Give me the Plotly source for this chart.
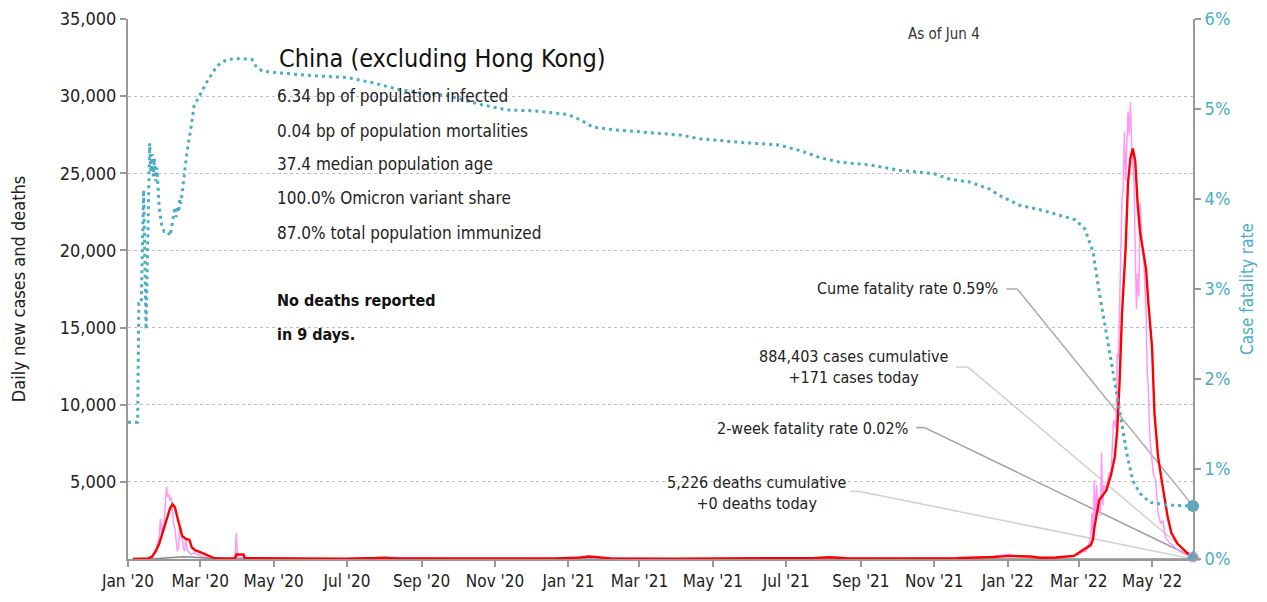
import plotly.graph_objects as go

############################################################
# Data ######################################################

# daily new cases, raw (pink)
cases_dates = [
  '2020-01-15', '2020-01-20', '2020-01-23', '2020-01-25', '2020-01-27', '2020-01-28', '2020-01-29',
  '2020-01-30', '2020-01-31', '2020-02-01', '2020-02-02', '2020-02-03', '2020-02-04', '2020-02-05',
  '2020-02-06', '2020-02-07', '2020-02-08', '2020-02-09', '2020-02-10', '2020-02-11', '2020-02-12',
  '2020-02-13', '2020-02-14', '2020-02-15', '2020-02-16', '2020-02-17', '2020-02-18', '2020-02-19',
  '2020-02-20', '2020-02-22', '2020-02-25', '2020-02-28', '2020-03-03', '2020-03-07', '2020-03-12',
  '2020-03-20', '2020-03-30', '2020-03-31', '2020-04-01', '2020-04-05', '2020-05-01', '2020-07-01',
  '2020-07-28', '2020-08-05', '2020-10-01', '2020-11-01', '2020-11-10', '2020-12-20', '2021-01-12',
  '2021-01-18', '2021-01-28', '2021-04-01', '2021-07-30', '2021-08-06', '2021-08-20', '2021-11-05',
  '2021-12-20', '2022-01-03', '2022-01-06', '2022-01-15', '2022-01-28', '2022-02-15', '2022-02-25',
  '2022-03-01', '2022-03-04', '2022-03-07', '2022-03-10', '2022-03-11', '2022-03-12', '2022-03-13',
  '2022-03-14', '2022-03-15', '2022-03-16', '2022-03-17', '2022-03-18', '2022-03-19', '2022-03-20',
  '2022-03-21', '2022-03-22', '2022-03-24', '2022-03-26', '2022-03-28', '2022-03-29', '2022-03-30',
  '2022-04-01', '2022-04-02', '2022-04-03', '2022-04-04', '2022-04-05', '2022-04-06', '2022-04-07',
  '2022-04-08', '2022-04-09', '2022-04-10', '2022-04-11', '2022-04-12', '2022-04-13', '2022-04-14',
  '2022-04-15', '2022-04-16', '2022-04-17', '2022-04-18', '2022-04-19', '2022-04-20', '2022-04-21',
  '2022-04-22', '2022-04-23', '2022-04-24', '2022-04-25', '2022-04-26', '2022-04-27', '2022-04-28',
  '2022-04-29', '2022-05-02', '2022-05-04', '2022-05-06', '2022-05-08', '2022-05-10', '2022-05-12',
  '2022-05-15', '2022-05-18', '2022-05-22', '2022-05-26', '2022-05-30', '2022-06-04',
]
cases_daily = [
  0, 100, 400, 800, 1500, 2600, 1700,
  2000, 2500, 3500, 4700, 4000, 4200, 3800,
  4000, 3000, 2200, 2000, 1200, 500, 700,
  2150, 2000, 1300, 700, 500, 1200, 700,
  500, 300, 400, 300, 150, 80, 20,
  40, 40, 1700, 60, 80, 20, 25,
  90, 100, 25, 60, 25, 30, 120,
  180, 100, 20, 80, 130, 50, 70,
  150, 300, 220, 160, 90, 120, 200,
  300, 450, 500, 1100, 1500, 3000, 1300,
  5100, 2500, 4800, 3000, 4000, 2800, 6900,
  3500, 4800, 4500, 5500, 5700, 7000, 9000,
  8500, 13300, 13000, 16500, 21000, 23300, 24000,
  27700, 24500, 27000, 29000, 27500, 29600, 27000,
  25500, 24400, 20000, 16200, 18500, 17000, 23100,
  21500, 20000, 19500, 18000, 16000, 12000, 11000,
  8000, 5500, 5100, 3000, 2300, 2500, 1400,
  1100, 900, 600, 400, 250, 171,
]

# 7-day average of new cases (red)
avg_dates = [
  '2020-01-05', '2020-01-18', '2020-01-21', '2020-01-24', '2020-01-27', '2020-01-30', '2020-02-02',
  '2020-02-05', '2020-02-07', '2020-02-09', '2020-02-11', '2020-02-13', '2020-02-15', '2020-02-18',
  '2020-02-21', '2020-02-23', '2020-02-26', '2020-03-01', '2020-03-05', '2020-03-09', '2020-03-13',
  '2020-03-20', '2020-03-30', '2020-03-31', '2020-04-06', '2020-04-07', '2020-04-20', '2020-05-15',
  '2020-07-01', '2020-07-25', '2020-08-01', '2020-08-10', '2020-10-01', '2020-10-28', '2020-11-10',
  '2020-12-20', '2021-01-10', '2021-01-18', '2021-01-25', '2021-02-05', '2021-04-01', '2021-06-01',
  '2021-07-25', '2021-08-06', '2021-08-20', '2021-10-01', '2021-11-05', '2021-11-20', '2021-12-20',
  '2022-01-03', '2022-01-10', '2022-01-20', '2022-01-28', '2022-02-10', '2022-02-25', '2022-03-02',
  '2022-03-08', '2022-03-11', '2022-03-13', '2022-03-14', '2022-03-16', '2022-03-18', '2022-03-24',
  '2022-03-28', '2022-03-31', '2022-04-02', '2022-04-04', '2022-04-06', '2022-04-09', '2022-04-11',
  '2022-04-13', '2022-04-15', '2022-04-17', '2022-04-19', '2022-04-21', '2022-04-24', '2022-04-26',
  '2022-04-28', '2022-05-01', '2022-05-03', '2022-05-06', '2022-05-10', '2022-05-14', '2022-05-17',
  '2022-05-22', '2022-05-30', '2022-06-04',
]
cases_avg = [
  0, 40, 150, 500, 1000, 1800, 2600,
  3300, 3550, 3350, 2700, 2000, 1500, 1300,
  1250, 750, 550, 450, 300, 150, 50,
  30, 40, 290, 290, 50, 40, 20,
  25, 60, 90, 40, 25, 40, 25,
  30, 90, 160, 120, 30, 20, 30,
  60, 110, 50, 35, 70, 50, 130,
  200, 180, 160, 80, 100, 200, 450,
  700, 900, 1300, 2000, 2900, 3800, 4450,
  5500, 6600, 8300, 11500, 15900, 20100, 24400,
  26000, 26600, 25800, 23000, 21200, 19800, 18800,
  16500, 13700, 9400, 6600, 4600, 2700, 1700,
  1000, 400, 130,
]

# 7-day average of deaths (gray)
deaths_dates = ['2020-01-20', '2020-01-30', '2020-02-08', '2020-02-16', '2020-02-25', '2020-03-10',
                '2020-03-25', '2022-04-05', '2022-04-25', '2022-05-10', '2022-06-04']
deaths_avg = [0, 40, 90, 140, 110, 30, 5, 0, 40, 25, 0]

# case fatality rate, % (blue dotted, right axis)
cfr_dates = [
  '2020-01-01', '2020-01-09', '2020-01-10', '2020-01-12', '2020-01-14', '2020-01-16', '2020-01-19',
  '2020-01-20', '2020-01-21', '2020-01-22', '2020-01-23', '2020-01-24', '2020-01-25', '2020-01-26',
  '2020-01-27', '2020-01-29', '2020-01-31', '2020-02-03', '2020-02-05', '2020-02-07', '2020-02-09',
  '2020-02-10', '2020-02-11', '2020-02-12', '2020-02-13', '2020-02-14', '2020-02-17', '2020-02-19',
  '2020-02-23', '2020-02-25', '2020-03-01', '2020-03-06', '2020-03-15', '2020-03-23', '2020-04-04',
  '2020-04-13', '2020-04-17', '2020-04-22', '2020-05-06', '2020-06-03', '2020-07-01', '2020-07-23',
  '2020-08-12', '2020-08-31', '2020-09-22', '2020-10-09', '2020-10-20', '2020-11-11', '2020-12-03',
  '2020-12-31', '2021-01-11', '2021-01-21', '2021-02-07', '2021-03-07', '2021-04-04', '2021-04-20',
  '2021-05-23', '2021-06-25', '2021-07-12', '2021-07-29', '2021-08-14', '2021-09-08', '2021-10-03',
  '2021-11-01', '2021-11-14', '2021-11-30', '2021-12-17', '2021-12-25', '2022-01-11', '2022-01-28',
  '2022-02-13', '2022-02-26', '2022-03-06', '2022-03-10', '2022-03-13', '2022-03-18', '2022-03-24',
  '2022-03-29', '2022-04-04', '2022-04-10', '2022-04-15', '2022-04-21', '2022-04-29', '2022-05-13',
  '2022-06-04',
]
cfr = [
  1.52, 1.52, 2.84, 2.84, 4.10, 2.55, 4.62,
  4.30, 4.50, 4.25, 4.45, 4.20, 4.35, 4.10,
  3.90, 3.71, 3.64, 3.64, 3.59, 3.75, 3.91,
  3.80, 3.92, 3.85, 4.00, 3.95, 4.27, 4.52,
  4.85, 5.04, 5.16, 5.29, 5.48, 5.55, 5.56,
  5.55, 5.46, 5.42, 5.40, 5.37, 5.35, 5.29,
  5.22, 5.18, 5.15, 5.09, 5.05, 4.99, 4.98,
  4.94, 4.88, 4.80, 4.77, 4.74, 4.71, 4.67,
  4.63, 4.60, 4.54, 4.46, 4.41, 4.38, 4.32,
  4.28, 4.22, 4.19, 4.11, 4.04, 3.93, 3.88,
  3.82, 3.77, 3.67, 3.52, 3.41, 2.97, 2.53,
  2.12, 1.65, 1.17, 0.87, 0.73, 0.63, 0.60,
  0.59,
]

two_week_cfr = 0.02
end_date = '2022-06-04'

x_ticks = ['2020-01-01', '2020-03-01', '2020-05-01', '2020-07-01', '2020-09-01', '2020-11-01',
           '2021-01-01', '2021-03-01', '2021-05-01', '2021-07-01', '2021-09-01', '2021-11-01',
           '2022-01-01', '2022-03-01', '2022-05-01']
y_ticks = [5000, 10000, 15000, 20000, 25000, 30000, 35000]
y2_ticks = [0, 1, 2, 3, 4, 5, 6]
y2_labels = ['0%', '1%', '2%', '3%', '4%', '5%', '6%']

stats = [
  '6.34 bp of population infected',
  '0.04 bp of population mortalities',
  '37.4 median population age',
  '100.0% Omicron variant share',
  '87.0% total population immunized',
]

############################################################
# Plot #####################################################

FONT = 'DejaVu Sans Condensed, Roboto, sans-serif'
BLUE = '#4bacc6'

fig = go.Figure()

fig.add_trace(go.Scatter(
  x = cases_dates, y = cases_daily, mode = 'lines',
  line = dict(color = '#ff99f5', width = 1.5),
))
fig.add_trace(go.Scatter(
  x = deaths_dates, y = deaths_avg, mode = 'lines',
  line = dict(color = '#888888', width = 1.5),
))
fig.add_trace(go.Scatter(
  x = avg_dates, y = cases_avg, mode = 'lines',
  line = dict(color = '#ff0000', width = 2.4),
))
fig.add_trace(go.Scatter(
  x = cfr_dates, y = cfr, mode = 'lines', yaxis = 'y2',
  line = dict(color = BLUE, width = 3, dash = '3px,4px'),
))

# end markers
fig.add_trace(go.Scatter(
  x = [end_date], y = [cases_avg[-1]], mode = 'markers',
  marker = dict(size = 11, color = 'rgba(205,150,215,0.85)'),
  cliponaxis = False,
))
fig.add_trace(go.Scatter(
  x = [end_date], y = [cfr[-1]], mode = 'markers', yaxis = 'y2',
  marker = dict(size = 12, color = BLUE),
  cliponaxis = False,
))
fig.add_trace(go.Scatter(
  x = [end_date], y = [two_week_cfr], mode = 'markers', yaxis = 'y2',
  marker = dict(size = 13, color = BLUE, symbol = 'triangle-up'),
  cliponaxis = False,
))

# leader lines from labels to end points
def leader(x0, x1, y0, y_end, yref, color):
  fig.add_shape(type = 'line', xref = 'x', yref = yref, x0 = x0, x1 = x1, y0 = y0, y1 = y0,
                line = dict(color = color, width = 1.5), layer = 'below')
  fig.add_shape(type = 'line', xref = 'x', yref = yref, x0 = x1, x1 = end_date, y0 = y0, y1 = y_end,
                line = dict(color = color, width = 1.5), layer = 'below')

leader('2021-12-31', '2022-01-09', 3.0, cfr[-1], 'y2', '#aaaaaa')
leader('2021-11-19', '2021-11-29', 12440, cases_avg[-1], 'y', '#d0d0d0')
leader('2021-10-17', '2021-10-24', 1.46, two_week_cfr, 'y2', '#a0a0a0')
leader('2021-08-23', '2021-08-31', 4380, deaths_avg[-1], 'y', '#d0d0d0')

anns = [
  dict(x = 0.1399, y = 0.926, text = 'China (excluding Hong Kong)', xanchor = 'left',
       font = dict(size = 25, color = '#111')),
  dict(x = 0.766, y = 0.972, text = 'As of Jun 4', xanchor = 'center',
       font = dict(size = 15, color = '#333')),
  dict(x = 0.138, y = 0.479, text = '<b>No deaths reported</b>', xanchor = 'left',
       font = dict(size = 16, color = '#111')),
  dict(x = 0.138, y = 0.416, text = '<b>in 9 days.</b>', xanchor = 'left',
       font = dict(size = 16, color = '#111')),
  dict(x = 0.819, y = 0.501, text = 'Cume fatality rate 0.59%', xanchor = 'right',
       font = dict(size = 16, color = '#222')),
  dict(x = 0.681, y = 0.355, text = '884,403 cases cumulative<br>+171 cases today', xanchor = 'center',
       align = 'center', font = dict(size = 16, color = '#222')),
  dict(x = 0.734, y = 0.241, text = '2-week fatality rate 0.02%', xanchor = 'right',
       font = dict(size = 16, color = '#222')),
  dict(x = 0.591, y = 0.123, text = '5,226 deaths cumulative<br>+0 deaths today', xanchor = 'center',
       align = 'center', font = dict(size = 16, color = '#222')),
]
for ypos, txt in zip([0.858, 0.792, 0.731, 0.668, 0.604], stats):
  anns.append(dict(x = 0.138, y = ypos, text = txt, xanchor = 'left',
                   font = dict(size = 17, color = '#222')))
for a in anns:
  a.update(xref = 'paper', yref = 'paper', yanchor = 'middle', showarrow = False)

fig.update_layout(
  width = 1267, height = 602,
  margin = dict(l = 120, r = 82, t = 11, b = 51),
  paper_bgcolor = 'white', plot_bgcolor = 'white',
  showlegend = False,
  font = dict(family = FONT, size = 18, color = '#333'),
  annotations = anns,
  xaxis = dict(
    type = 'date', range = ['2020-01-01', end_date], automargin = False,
    tickvals = x_ticks, tickformat = "%b '%y",
    showgrid = False, showline = True, linecolor = '#999', linewidth = 2,
    ticks = 'outside', ticklen = 6, tickcolor = '#999', tickwidth = 1.5,
    tickfont = dict(size = 17, color = '#222'), zeroline = False,
    ticklabeloverflow = 'allow',
  ),
  yaxis = dict(
    range = [0, 35000], tickvals = y_ticks, tickformat = ',d', automargin = False,
    showgrid = True, gridcolor = '#c0c0c0', griddash = 'dot', gridwidth = 1,
    showline = True, linecolor = '#999', linewidth = 2,
    ticks = 'outside', ticklen = 6, tickcolor = '#999', tickwidth = 1.5,
    tickfont = dict(size = 18, color = '#222'), zeroline = False,
    ticklabeloverflow = 'allow',
    title = dict(text = 'Daily new cases and deaths', font = dict(size = 18, color = '#222'),
                 standoff = 31),
  ),
  yaxis2 = dict(
    overlaying = 'y', side = 'right', range = [0, 6], automargin = False,
    tickvals = y2_ticks, ticktext = y2_labels,
    showgrid = False, zeroline = False,
    showline = True, linecolor = '#999', linewidth = 2,
    ticks = 'outside', ticklen = 6, tickcolor = '#999', tickwidth = 1.5,
    tickfont = dict(size = 18, color = BLUE),
    ticklabeloverflow = 'allow',
    title = dict(text = 'Case fatality rate', font = dict(size = 17, color = BLUE), standoff = 12),
  ),
)

fig.write_html('out.html')
